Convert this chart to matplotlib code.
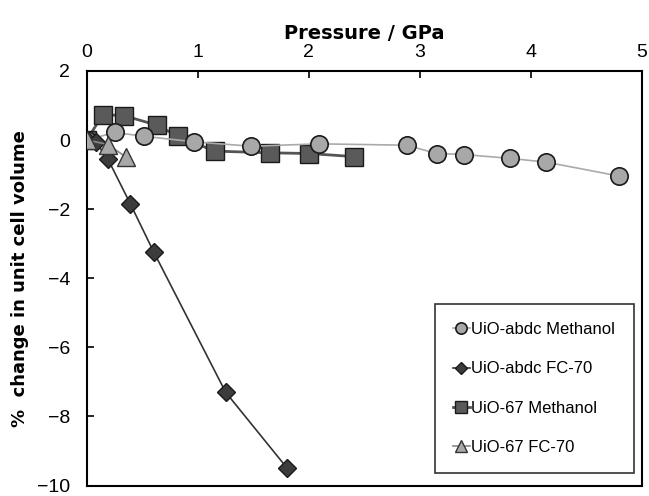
import matplotlib
matplotlib.use("Agg")
import matplotlib.pyplot as plt

plt.rcParams["font.family"] = ["Liberation Sans", "DejaVu Sans"]

# UiO-abdc in methanol
abdc_meoh_p = [0.0, 0.25, 0.51, 0.96, 1.48, 2.09, 2.88, 3.15, 3.40, 3.81, 4.14, 4.79]
abdc_meoh_v = [0.0, 0.22, 0.11, -0.05, -0.18, -0.11, -0.15, -0.39, -0.42, -0.53, -0.64, -1.04]

# UiO-abdc in FC-70
abdc_fc_p = [0.0, 0.08, 0.19, 0.39, 0.60, 1.25, 1.80]
abdc_fc_v = [0.0, -0.06, -0.56, -1.84, -3.23, -7.30, -9.48]

# UiO-67 in methanol
u67_meoh_p = [0.0, 0.14, 0.33, 0.63, 0.82, 1.15, 1.65, 2.00, 2.41]
u67_meoh_v = [0.0, 0.73, 0.71, 0.43, 0.11, -0.32, -0.37, -0.39, -0.48]

# UiO-67 in FC-70
u67_fc_p = [0.0, 0.19, 0.35]
u67_fc_v = [0.0, -0.13, -0.49]

fig = plt.figure(figsize=(6.49, 4.96), dpi=100)
ax = fig.add_axes([0.134, 0.021, 0.855, 0.836])

ax.plot(abdc_meoh_p, abdc_meoh_v, color="#aaaaaa", lw=1.2, marker="o", ms=12.5,
        mfc="#a8a8a8", mec="#1a1a1a", mew=1.2, label="UiO-abdc Methanol", zorder=3)
ax.plot(abdc_fc_p, abdc_fc_v, color="#333333", lw=1.2, marker="D", ms=9,
        mfc="#3c3c3c", mec="#1a1a1a", mew=1.0, label="UiO-abdc FC-70", zorder=4)
ax.plot(u67_meoh_p, u67_meoh_v, color="#555555", lw=2.0, marker="s", ms=13,
        mfc="#5a5a5a", mec="#1a1a1a", mew=1.0, label="UiO-67 Methanol", zorder=2)
ax.plot(u67_fc_p, u67_fc_v, color="#888888", lw=1.2, marker="^", ms=13,
        mfc="#a8a8a8", mec="#333333", mew=1.0, label="UiO-67 FC-70", zorder=5)

ax.set_xlim(0, 5)
ax.set_ylim(-10, 2)
ax.set_xticks([0, 1, 2, 3, 4, 5])
ax.set_yticks([-10, -8, -6, -4, -2, 0, 2])
ax.xaxis.tick_top()
ax.xaxis.set_label_position("top")
ax.tick_params(axis="x", direction="in", length=5, width=1.2, pad=7, labelsize=14)
ax.tick_params(axis="y", direction="in", length=5, width=1.2, pad=12, labelsize=14)
for sp in ax.spines.values():
    sp.set_linewidth(1.5)

ax.set_xlabel("Pressure / GPa", fontsize=14, fontweight="bold", labelpad=4,
              family="DejaVu Sans")
ax.set_ylabel("%  change in unit cell volume", fontsize=13, fontweight="bold",
              family="DejaVu Sans")
ax.yaxis.set_label_coords(-0.105, 0.5)

leg = ax.legend(loc="lower right", bbox_to_anchor=(0.985, 0.03), fontsize=12,
                handlelength=1.0, handletextpad=0.1, labelspacing=1.45,
                borderpad=1.1, fancybox=False, edgecolor="black",
                markerscale=0.65, borderaxespad=0)
leg.get_frame().set_linewidth(1.2)

fig.savefig("out.png", dpi=100)
